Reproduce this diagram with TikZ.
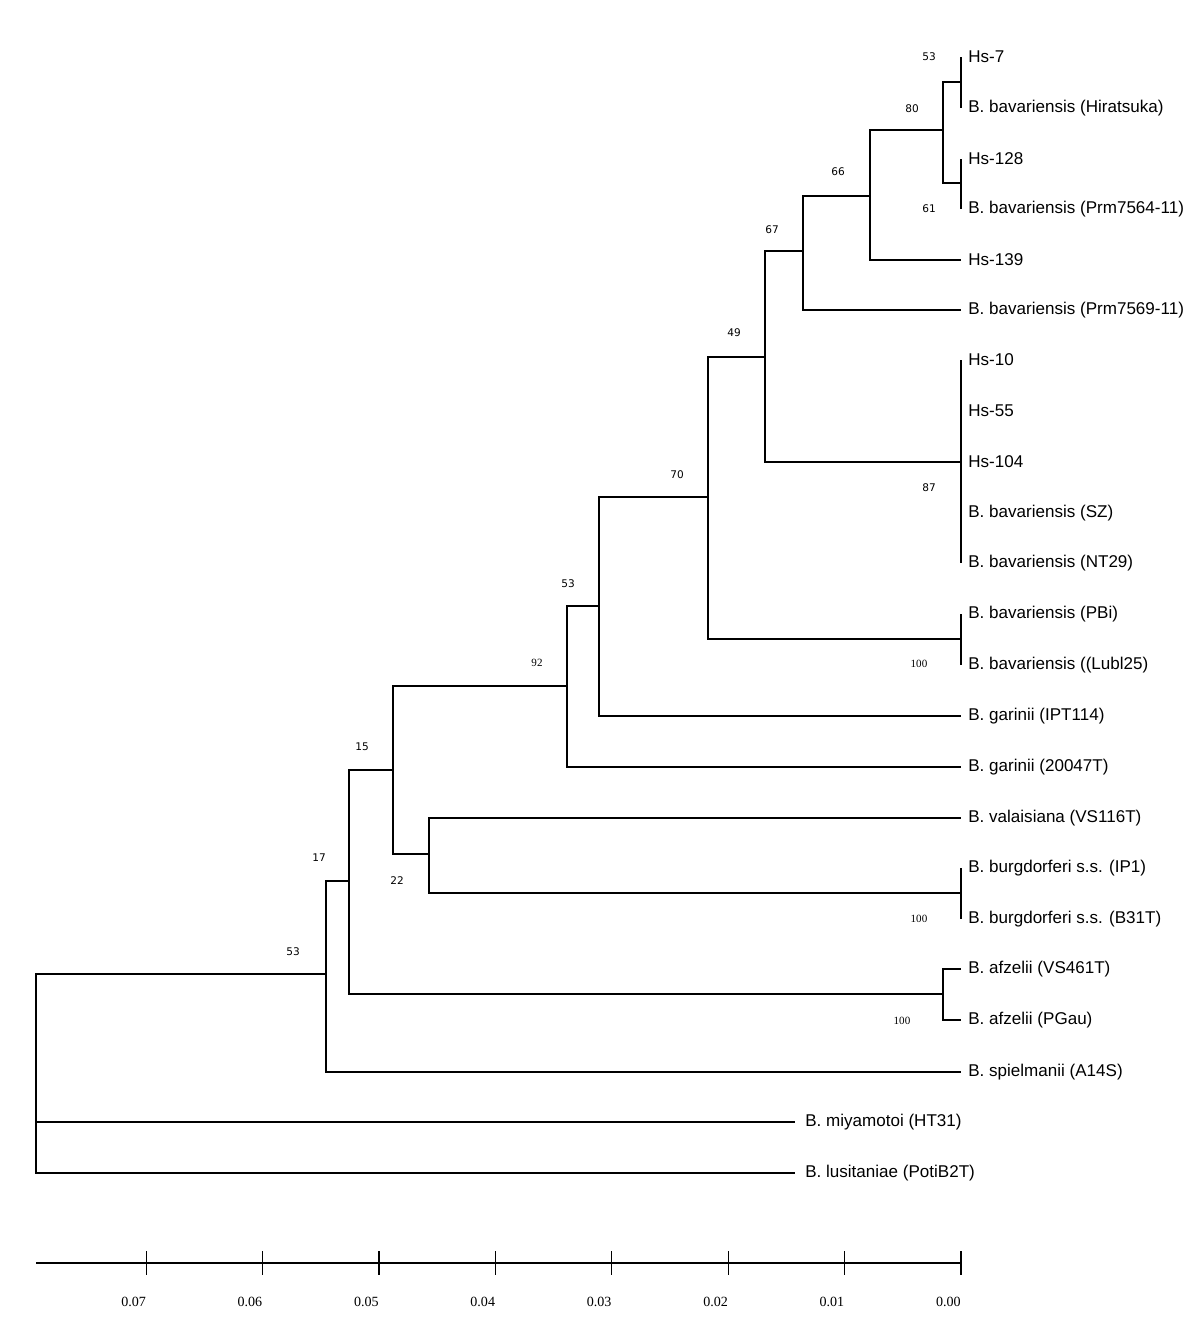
\documentclass[tikz,border=0pt]{standalone}
\usepackage{fontspec}
\setmainfont{Liberation Sans}
\newfontfamily\bootsans{DejaVu Sans}
\newfontfamily\bootserif{Liberation Serif}
\usepackage{tikz}
\pgfdeclarelayer{bg}
\pgfsetlayers{bg,main}
\tikzset{
  leaf/.style={anchor=west,inner xsep=0.14cm,inner ysep=0pt,font=\fontsize{9.7}{11}\selectfont},
  bs/.style={inner sep=0pt,font=\bootsans\fontsize{6}{7}\selectfont},
  bsr/.style={inner sep=0pt,font=\bootserif\fontsize{6.3}{7}\selectfont},
  scl/.style={anchor=east,inner sep=0pt,font=\bootserif\fontsize{8}{9}\selectfont},
  br/.style={line width=1.3pt},
  tn/.style={line width=0.6pt},
}

\begin{document}
\begin{tikzpicture}[x=0.02cm,y=-0.02cm]
        \useasboundingbox (0,0) rectangle (1200,1335);
        \node (t1) [leaf] at (961,57) {Hs-7};
        \node (t2) [leaf] at (961,108) {B. bavariensis (Hiratsuka)};
        \node (t3) [leaf] at (961,159) {Hs-128};
        \node (t4) [leaf] at (961,209) {B. bavariensis (Prm7564-11)};
        \node (t5) [leaf] at (961,260) {Hs-139};
        \node (t6) [leaf] at (961,310) {B. bavariensis (Prm7569-11)};
        \node (t7) [leaf] at (961,360) {Hs-10};
        \node (t8) [leaf] at (961,411) {Hs-55};
        \node (t9) [leaf] at (961,462) {Hs-104};
        \node (t10) [leaf] at (961,513) {B. bavariensis (SZ)};
        \node (t11) [leaf] at (961,563) {B. bavariensis (NT29)};
        \node (t12) [leaf] at (961,614) {B. bavariensis (PBi)};
        \node (t13) [leaf] at (961,665) {B. bavariensis ((Lubl25)};
        \node (t14) [leaf] at (961,716) {B. garinii (IPT114)};
        \node (t15) [leaf] at (961,767) {B. garinii (20047T)};
        \node (t16) [leaf] at (961,818) {B. valaisiana (VS116T)};
        \node (t17) [leaf] at (961,868) {B. burgdorferi s.s. (IP1)};
        \node (t18) [leaf] at (961,919) {B. burgdorferi s.s. (B31T)};
        \node (t19) [leaf] at (961,969) {B. afzelii (VS461T)};
        \node (t20) [leaf] at (961,1020) {B. afzelii (PGau)};
        \node (t21) [leaf] at (961,1072) {B. spielmanii (A14S)};
        \node (t22) [leaf,inner xsep=0.2cm] at (795,1122) {B. miyamotoi (HT31)};
        \node (t23) [leaf,inner xsep=0.2cm] at (795,1173) {B. lusitaniae (PotiB2T)};
        \coordinate (v0) at (36,1073);
        \coordinate (v1) at (326,974);
        \coordinate (v2) at (349,881);
        \coordinate (v3) at (393,770);
        \coordinate (v4) at (429,854);
        \coordinate (v5) at (961,893);
        \coordinate (v6) at (943,994);
        \coordinate (v7) at (567,686);
        \coordinate (v8) at (599,606);
        \coordinate (v9) at (708,497);
        \coordinate (v10) at (961,639);
        \coordinate (v11) at (765,357);
        \coordinate (v12) at (961,462);
        \coordinate (v13) at (803,251);
        \coordinate (v14) at (870,196);
        \coordinate (v15) at (943,130);
        \coordinate (v16) at (961,82);
        \coordinate (v17) at (961,183);
        \node (b1) [bs] at (929,57) {53};
        \node (b2) [bs] at (912,109) {80};
        \node (b3) [bs] at (838,172) {66};
        \node (b4) [bs] at (929,209) {61};
        \node (b5) [bs] at (772,230) {67};
        \node (b6) [bs] at (734,333) {49};
        \node (b7) [bs] at (929,488) {87};
        \node (b8) [bs] at (677,475) {70};
        \node (b9) [bsr] at (919,664) {100};
        \node (b10) [bs] at (568,584) {53};
        \node (b11) [bsr] at (537,663) {92};
        \node (b12) [bs] at (362,747) {15};
        \node (b13) [bs] at (397,881) {22};
        \node (b14) [bs] at (319,858) {17};
        \node (b15) [bs] at (293,952) {53};
        \node (b16) [bsr] at (919,919) {100};
        \node (b17) [bsr] at (902,1021) {100};
        \coordinate (a0) at (36,1263);
        \coordinate (a1) at (961,1263);
        \foreach \k in {0,...,7}
                \node (s\k) [scl] at ({961-116.4*\k},1302) {0.0\k};
        \begin{pgfonlayer}{bg}
                \draw[br] (v0) |- (v1);
                \draw[br] (v0) |- (t22.west);
                \draw[tn] (v0) |- (t23.west);
                \draw[tn] (v1) |- (v2);
                \draw[br] (v1) |- (t21.west);
                \draw[br] (v2) |- (v3);
                \draw[br] (v2) |- (v6);
                \draw[br] (v6) |- (t19.west);
                \draw[br] (v6) |- (t20.west);
                \draw[br] (v3) |- (v7);
                \draw[br] (v3) |- (v4);
                \draw[br] (v4) |- (t16.west);
                \draw[br] (v4) |- (v5);
                \draw[br] (v5) |- (t17.west);
                \draw[br] (v5) |- (t18.west);
                \draw[tn] (v7) |- (v8);
                \draw[br] (v7) |- (t15.west);
                \draw[br] (v8) |- (v9);
                \draw[br] (v8) |- (t14.west);
                \draw[br] (v9) |- (v11);
                \draw[br] (v9) |- (v10);
                \draw[br] (v10) |- (t12.west);
                \draw[br] (v10) |- (t13.west);
                \draw[br] (v11) |- (v13);
                \draw[br] (v11) |- (v12);
                \foreach \t in {t7,t8,t9,t10,t11}
                        \draw[br] (v12) |- (\t.west);
                \draw[br] (v13) |- (v14);
                \draw[tn] (v13) |- (t6.west);
                \draw[br] (v14) |- (v15);
                \draw[br] (v14) |- (t5.west);
                \draw[br] (v15) |- (v16);
                \draw[br] (v15) |- (v17);
                \draw[br] (v16) |- (t1.west);
                \draw[br] (v16) |- (t2.west);
                \draw[br] (v17) |- (t3.west);
                \draw[br] (v17) |- (t4.west);
                \draw[br] (a0) -- (a1);
                \draw[br] (a1) ++(0,-12) -- ++(0,24);
                \foreach \k in {1,...,7}
                        \draw[tn] ({961-116.4*\k},1251) -- ++(0,24);
        \end{pgfonlayer}
\end{tikzpicture}
\end{document}
